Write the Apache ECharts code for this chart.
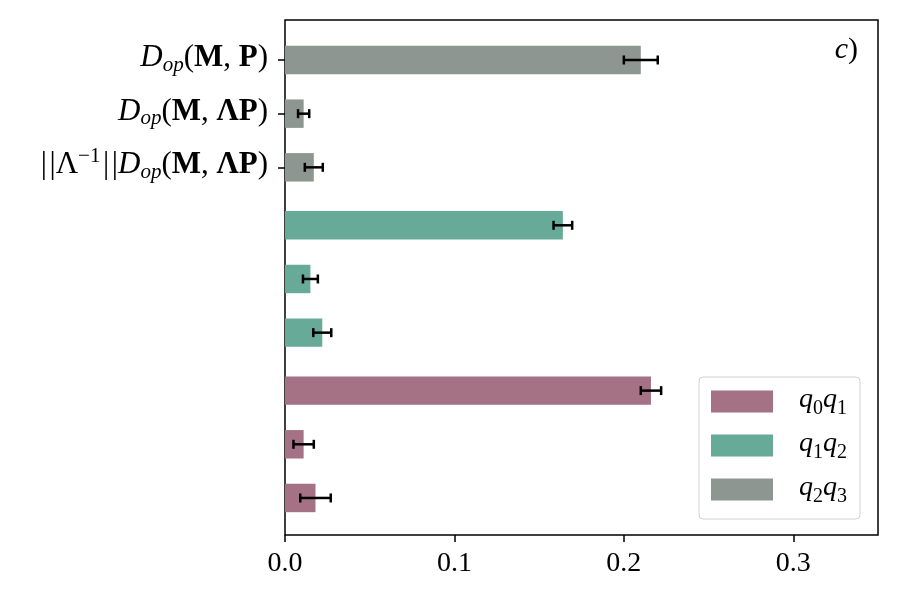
<!DOCTYPE html>
<html><head><meta charset="utf-8">
<script src="https://cdn.jsdelivr.net/npm/echarts@6/dist/echarts.min.js"></script>
<style>html,body{margin:0;padding:0;background:#fff}#c{width:900px;height:600px}</style>
</head><body><div id="c"></div>
<script>
// Row positions (top to bottom) on the y value axis
const rowPositions = [0, 1, 2, 3.08, 4.08, 5.08, 6.16, 7.16, 8.16];
// Labels of the three top rows (rich text)
const rowLabels = [
  '{it|D}{sub|op}{rm|(}{bf|M}{rm|, }{bf|P}{rm|)}',
  '{it|D}{sub|op}{rm|(}{bf|M}{rm|, }{bf|ΛP}{rm|)}',
  '{rm||\u200a|Λ}{sup|−1}{rm|\u200a|\u200a|}{it|D}{sub|op}{rm|(}{bf|M}{rm|, }{bf|ΛP}{rm|)}'
];
const xTicks = [0, 0.1, 0.2, 0.3];
const seriesNames = ['q0q1', 'q1q2', 'q2q3'];
const seriesColors = ['#a57185', '#67aa97', '#8e9691'];
// values per series (rows in each group, top to bottom)
const q2q3Values = [0.210, 0.011, 0.017];
const q2q3Errors = [0.010, 0.0033, 0.0053];
const q1q2Values = [0.164, 0.015, 0.022];
const q1q2Errors = [0.0055, 0.0044, 0.0053];
const q0q1Values = [0.216, 0.011, 0.018];
const q0q1Errors = [0.006, 0.006, 0.009];
// which rows each series occupies
const q2q3Rows = [0, 1, 2];
const q1q2Rows = [3, 4, 5];
const q0q1Rows = [6, 7, 8];

const FF = 'Liberation Serif';
const BAR_H = 0.53;

function mkData(vals, errs, rows) {
  return vals.map((v, i) => [v, rowPositions[rows[i]], errs[i]]);
}
function barItem(params, api) {
  const v = api.value(0), p = api.value(1);
  const a = api.coord([0, p]), b = api.coord([v, p]);
  const h = api.size([0, BAR_H])[1];
  return { type: 'rect', shape: { x: a[0], y: a[1] - h / 2, width: b[0] - a[0], height: h },
    style: { fill: api.visual('color') } };
}
function errItem(params, api) {
  const v = api.value(0), p = api.value(1), e = api.value(2);
  const l = api.coord([v - e, p]), r = api.coord([v + e, p]);
  const c = 4.5;
  const st = { stroke: '#000', lineWidth: 2.5 };
  return { type: 'group', children: [
    { type: 'line', shape: { x1: l[0], y1: l[1], x2: r[0], y2: r[1] }, style: st },
    { type: 'line', shape: { x1: l[0], y1: l[1] - c, x2: l[0], y2: l[1] + c }, style: st },
    { type: 'line', shape: { x1: r[0], y1: r[1] - c, x2: r[0], y2: r[1] + c }, style: st }
  ] };
}
const groups = [
  [q0q1Values, q0q1Errors, q0q1Rows],
  [q1q2Values, q1q2Errors, q1q2Rows],
  [q2q3Values, q2q3Errors, q2q3Rows]
];
const series = [];
groups.forEach((g, k) => {
  series.push({ type: 'custom', name: seriesNames[k], renderItem: barItem,
    itemStyle: { color: seriesColors[k] }, encode: { x: 0, y: 1 }, data: mkData(g[0], g[1], g[2]), z: 2 });
});
groups.forEach((g, k) => {
  series.push({ type: 'custom', name: 'err' + k, renderItem: errItem,
    encode: { x: [0], y: 1 }, data: mkData(g[0], g[1], g[2]), z: 3 });
});

const chart = echarts.init(document.getElementById('c'), null, { renderer: 'canvas' });
const labelRich = {
  rm: { fontFamily: FF, fontSize: 31, color: '#000', lineHeight: 34, padding: [0, 0, 4, 0] },
  it: { fontFamily: FF, fontSize: 31, color: '#000', fontStyle: 'italic', lineHeight: 34, padding: [0, 0, 4, 0] },
  bf: { fontFamily: FF, fontSize: 31, color: '#000', fontWeight: 'bold', lineHeight: 34, padding: [0, 0, 4, 0] },
  sub: { fontFamily: FF, fontSize: 21, color: '#000', fontStyle: 'italic', lineHeight: 20, padding: [10, 0, 0, 0] },
  sup: { fontFamily: FF, fontSize: 21, color: '#000', lineHeight: 20, padding: [0, 0, 22, 0] }
};
chart.setOption({
  backgroundColor: '#fff',
  animation: false,
  grid: { left: 285, right: 22, top: 20, bottom: 65, show: true, borderColor: '#000', borderWidth: 1.5, backgroundColor: 'transparent' },
  xAxis: {
    type: 'value', min: 0, max: 0.35,
    axisLine: { show: false, onZero: false },
    splitLine: { show: false },
    axisTick: { show: true, length: 7, lineStyle: { color: '#000', width: 1.5 }, customValues: xTicks },
    axisLabel: { customValues: xTicks, margin: 15, fontFamily: FF, fontSize: 28, color: '#000',
      formatter: v => v.toFixed(1) }
  },
  yAxis: {
    type: 'value', inverse: true, min: -0.745, max: 8.85,
    axisLine: { show: false, onZero: false },
    splitLine: { show: false },
    axisTick: { show: true, length: 7, lineStyle: { color: '#000', width: 1.5 }, customValues: rowPositions.slice(0, 3) },
    axisLabel: { customValues: rowPositions.slice(0, 3), margin: 17, rich: labelRich,
      formatter: v => { const i = rowPositions.findIndex(p => Math.abs(p - v) < 1e-6); return i >= 0 && i < rowLabels.length ? rowLabels[i] : ''; } }
  },
  legend: {
    data: seriesNames,
    orient: 'vertical', left: 699, top: 377,
    padding: [7, 13, 12, 12],
    itemWidth: 62, itemHeight: 22, itemGap: 9,
    icon: 'rect',
    backgroundColor: '#fff',
    borderColor: '#d0d0d0', borderWidth: 1, borderRadius: 4,
    formatter: n => '{q|q}{s|' + n[1] + '}{q|q}{s|' + n[3] + '}',
    textStyle: {
      padding: [0, 0, 0, 21],
      rich: {
        q: { fontFamily: FF, fontSize: 28, fontStyle: 'italic', color: '#000', lineHeight: 28, padding: [0, 0, 4, 0] },
        s: { fontFamily: FF, fontSize: 20, color: '#000', lineHeight: 20, padding: [15, 0, 0, 0] }
      }
    }
  },
  graphic: [{
    type: 'text', right: 42, top: 35,
    style: { text: '{it|c}{rm|)}', rich: {
      it: { fontFamily: FF, fontSize: 30, fontStyle: 'italic', color: '#000' },
      rm: { fontFamily: FF, fontSize: 30, color: '#000' } } }
  }],
  series: series
});
</script></body></html>
